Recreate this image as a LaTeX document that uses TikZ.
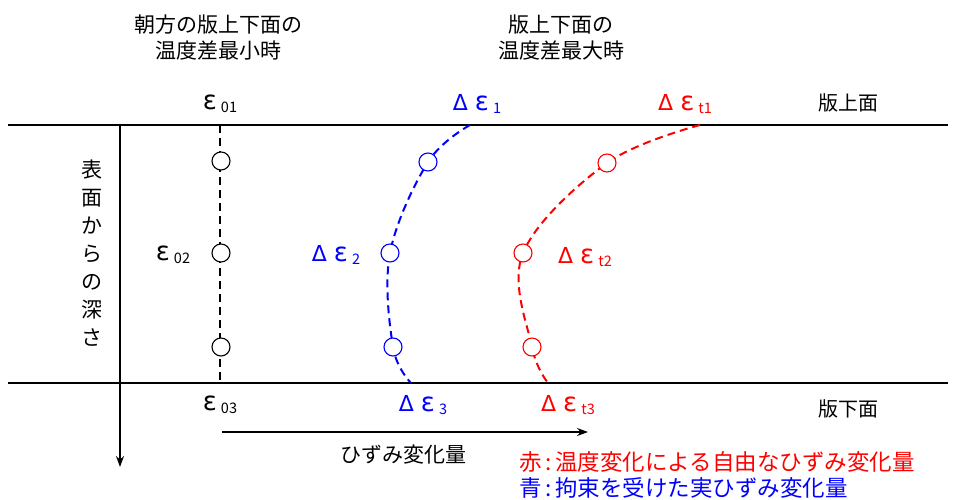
\documentclass[tikz,border=0pt]{standalone}
\usepackage{fontspec}
\setmainfont{Noto Sans CJK JP}
\newfontfamily\grk{DejaVu Sans}
\usetikzlibrary{arrows.meta}
\definecolor{myred}{RGB}{255,0,0}
\definecolor{myblue}{RGB}{0,0,255}
\newcommand{\epsg}{{\grk\fontsize{26}{26}\selectfont ε}}
\newcommand{\eps}[1]{\epsg\hspace{4pt}\raisebox{-3pt}{\fontsize{14.5}{16}\selectfont #1}}
\newcommand{\deps}[1]{{\grk\fontsize{22}{24}\selectfont Δ}\hspace{7pt}\epsg\hspace{4pt}\raisebox{-3pt}{\fontsize{14.5}{16}\selectfont #1}}
\begin{document}
\begin{tikzpicture}[x=1pt,y=-1pt,
  pt/.style={circle,draw=#1,fill=white,minimum size=18pt,inner sep=0pt,line width=1.1pt},
  pt/.default=black,
  dcurve/.style={line width=2pt,dash pattern=on 8pt off 5pt},
  lbl/.style={font=\fontsize{20}{22}\selectfont,inner sep=0pt},
  head/.style={font=\fontsize{21}{26}\selectfont,align=center,inner sep=0pt},
  leg/.style={font=\fontsize{22.5}{24}\selectfont,inner sep=0pt,anchor=west}]
\useasboundingbox (0,0) rectangle (955,499);
% plate surfaces
\coordinate (TL) at (8,125); \coordinate (TR) at (948,125);
\coordinate (BL) at (8,383); \coordinate (BR) at (948,383);
\draw[line width=2.2pt] (TL) -- (TR);
\draw[line width=2.2pt] (BL) -- (BR);
% depth axis
\coordinate (A1) at (120,125); \coordinate (A2) at (120,467);
\draw[line width=1.3pt,-{Stealth[length=11pt,width=8pt]}] (A1) -- (A2);
\node[font=\fontsize{21}{28}\selectfont,align=center,inner sep=0pt] (depth) at (92,253) {表\\面\\か\\ら\\の\\深\\さ};
% strain axis
\coordinate (S1) at (222,432); \coordinate (S2) at (588,432);
\draw[line width=1.3pt,-{Stealth[length=11pt,width=8pt]}] (S1) -- (S2);
\node[lbl,font=\fontsize{21}{22}\selectfont] (strain) at (403,455) {ひずみ変化量};
% headers
\node[head] (h1) at (218,38) {朝方の版上下面の\\温度差最小時};
\node[head] (h2) at (561,38) {版上下面の\\温度差最大時};
\node[lbl] (top) at (848,103) {版上面};
\node[lbl] (bot) at (848,409) {版下面};
% black initial
\coordinate (k0) at (220,125); \coordinate (k4) at (220,383);
\draw[dcurve] (k0) -- (k4);
\node[pt] (k1) at (221,161) {};
\node[pt] (k2) at (221,253) {};
\node[pt] (k3) at (221,347) {};
% blue
\draw[dcurve,myblue] plot[smooth,tension=0.6] coordinates {(470,125) (428,162) (390,253) (393,347) (411,383)};
\node[pt=myblue] (b1) at (428,162) {};
\node[pt=myblue] (b2) at (390,253) {};
\node[pt=myblue] (b3) at (393,347) {};
% red
\draw[dcurve,myred] plot[smooth,tension=0.6] coordinates {(700,125) (607,163) (523,253) (532,347) (548,383)};
\node[pt=myred] (r1) at (607,163) {};
\node[pt=myred] (r2) at (523,253) {};
\node[pt=myred] (r3) at (532,347) {};
% labels
\node[lbl] (e01) at (220,104) {\eps{01}};
\node[lbl] (e02) at (173,255) {\eps{02}};
\node[lbl] (e03) at (220,405) {\eps{03}};
\node[lbl,myblue] (d1) at (477,104) {\deps{1}};
\node[lbl,myblue] (d2) at (336,255) {\deps{2}};
\node[lbl,myblue] (d3) at (423,405) {\deps{3}};
\node[lbl,myred] (t1) at (685,104) {\deps{t1}};
\node[lbl,myred] (t2) at (585,257) {\deps{t2}};
\node[lbl,myred] (t3) at (568,405) {\deps{t3}};
% legend
\node[leg,myred] (lr) at (519,462) {赤\,:\,温度変化による自由なひずみ変化量};
\node[leg,myblue] (lb) at (519,488) {青\,:\,拘束を受けた実ひずみ変化量};
\end{tikzpicture}
\end{document}
